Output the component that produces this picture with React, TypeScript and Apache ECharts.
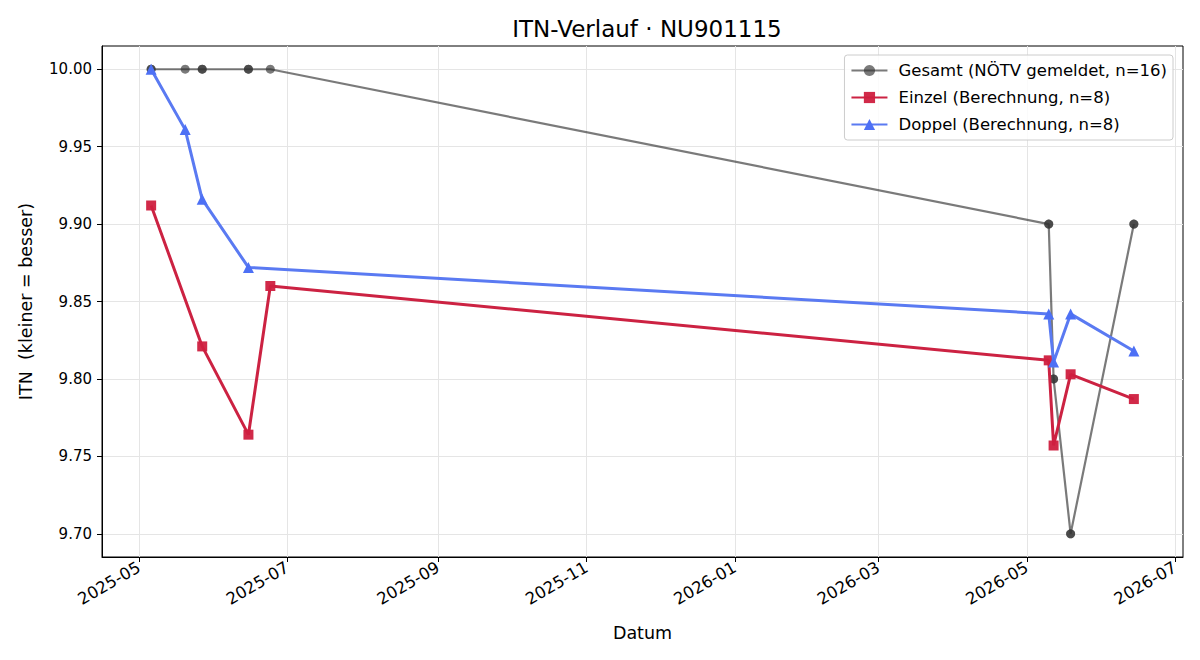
import React, { useEffect, useRef } from "react";
import * as echarts from "echarts";

const TITLE = "ITN-Verlauf · NU901115";
const X_NAME = "Datum";
const Y_NAME = "ITN  (kleiner = besser)";

const SERIES_NAMES = [
  "Gesamt (NÖTV gemeldet, n=16)",
  "Einzel (Berechnung, n=8)",
  "Doppel (Berechnung, n=8)",
];

const GESAMT_DATES = [
  "2025-05-06", "2025-05-06", "2025-05-20", "2025-05-27", "2025-05-27",
  "2025-06-15", "2025-06-15", "2025-06-24", "2026-05-10", "2026-05-10",
  "2026-05-12", "2026-05-12", "2026-05-19", "2026-05-19", "2026-06-14", "2026-06-14",
];
const GESAMT_VALUES = [
  10.0, 10.0, 10.0, 10.0, 10.0, 10.0, 10.0, 10.0,
  9.9, 9.9, 9.8, 9.8, 9.7, 9.7, 9.9, 9.9,
];

const EINZEL_DATES = [
  "2025-05-06", "2025-05-27", "2025-06-15", "2025-06-24",
  "2026-05-10", "2026-05-12", "2026-05-19", "2026-06-14",
];
const EINZEL_VALUES = [9.912, 9.821, 9.764, 9.86, 9.812, 9.757, 9.803, 9.787];

const DOPPEL_DATES = [
  "2025-05-06", "2025-05-20", "2025-05-27", "2025-06-15",
  "2026-05-10", "2026-05-12", "2026-05-19", "2026-06-14",
];
const DOPPEL_VALUES = [10.0, 9.961, 9.916, 9.872, 9.842, 9.811, 9.842, 9.818];

const X_TICKS = [
  "2025-05", "2025-07", "2025-09", "2025-11",
  "2026-01", "2026-03", "2026-05", "2026-07",
];
const Y_TICKS = [9.7, 9.75, 9.8, 9.85, 9.9, 9.95, 10.0];
const Y_MIN = 9.685;
const Y_MAX = 10.015;

const FONT = "DejaVu Sans";

function ts(s: string): number {
  const p = s.split("-").map(Number);
  return Date.UTC(p[0], p[1] - 1, p[2] || 1);
}

function pairs(dates: string[], vals: number[]) {
  return dates.map((d, i) => [ts(d), vals[i]]);
}

export default function App() {
  const ref = useRef<HTMLDivElement>(null);

  useEffect(() => {
    document.body.style.margin = "0";
    if (!ref.current) return;
    const chart = echarts.init(ref.current, null, { renderer: "svg" });

    const allT = [...GESAMT_DATES, ...EINZEL_DATES, ...DOPPEL_DATES].map(ts);
    const tMin = Math.min(...allT);
    const tMax = Math.max(...allT);
    const pad = (tMax - tMin) * 0.05;

    const fmtX = (v: number) => {
      const d = new Date(v);
      const m = d.getUTCMonth() + 1;
      return `${d.getUTCFullYear()}-${m < 10 ? "0" + m : m}`;
    };

    chart.setOption({
      animation: false,
      backgroundColor: "#ffffff",
      textStyle: { fontFamily: FONT },
      title: {
        text: TITLE,
        left: 642,
        textAlign: "center",
        top: 12,
        textStyle: { fontFamily: FONT, fontSize: 23, fontWeight: "normal", color: "#000" },
      },
      grid: {
        left: 102,
        right: 17,
        top: 46,
        bottom: 103,
        show: true,
        borderColor: "#000",
        borderWidth: 1,
        backgroundColor: "transparent",
      },
      legend: {
        orient: "vertical",
        right: 27,
        top: 55,
        backgroundColor: "rgba(255,255,255,0.85)",
        borderColor: "#cccccc",
        borderWidth: 1,
        borderRadius: 3,
        padding: [6, 6, 6, 6],
        itemGap: 8,
        itemWidth: 36,
        itemHeight: 14,
        data: SERIES_NAMES,
        textStyle: {
          fontFamily: FONT,
          fontSize: 16.5,
          lineHeight: 19,
          color: "#000",
          padding: [0, 0, 0, 6],
        },
      },
      xAxis: {
        type: "value",
        min: tMin - pad,
        max: tMax + pad,
        name: X_NAME,
        nameLocation: "middle",
        nameGap: 67,
        nameTextStyle: { fontFamily: FONT, fontSize: 17.5, color: "#000" },
        axisLine: { show: true, lineStyle: { color: "#000", width: 1 } },
        axisTick: {
          show: true,
          length: 5,
          inside: false,
          lineStyle: { color: "#000" },
          customValues: X_TICKS.map(ts),
        },
        axisLabel: {
          rotate: 30,
          margin: 9,
          fontFamily: FONT,
          fontSize: 16.5,
          color: "#000",
          customValues: X_TICKS.map(ts),
          formatter: (v: number) => fmtX(v),
        },
        splitLine: { show: true, lineStyle: { color: "#e5e5e5", width: 1 } },
      },
      yAxis: {
        type: "value",
        min: Y_MIN,
        max: Y_MAX,
        name: Y_NAME,
        nameLocation: "middle",
        nameGap: 67,
        nameTextStyle: { fontFamily: FONT, fontSize: 17.5, color: "#000" },
        axisLine: { show: true, lineStyle: { color: "#000", width: 1 } },
        axisTick: {
          show: true,
          length: 5,
          lineStyle: { color: "#000" },
          customValues: Y_TICKS,
        },
        axisLabel: {
          margin: 10,
          fontFamily: FONT,
          fontSize: 15,
          color: "#000",
          customValues: Y_TICKS,
          formatter: (v: number) => v.toFixed(2),
        },
        splitLine: { show: true, lineStyle: { color: "#e5e5e5", width: 1 } },
      },
      series: [
        {
          name: SERIES_NAMES[0],
          type: "line",
          data: pairs(GESAMT_DATES, GESAMT_VALUES),
          symbol: "circle",
          symbolSize: 9,
          lineStyle: { color: "#333333", width: 2.2, opacity: 0.65 },
          itemStyle: { color: "#333333", opacity: 0.65 },
          z: 2,
        },
        {
          name: SERIES_NAMES[1],
          type: "line",
          data: pairs(EINZEL_DATES, EINZEL_VALUES),
          symbol: "rect",
          symbolSize: 10,
          lineStyle: { color: "#cc2242", width: 3 },
          itemStyle: { color: "#cf1f3f", opacity: 0.95 },
          z: 3,
        },
        {
          name: SERIES_NAMES[2],
          type: "line",
          data: pairs(DOPPEL_DATES, DOPPEL_VALUES),
          symbol: "triangle",
          symbolSize: 11,
          lineStyle: { color: "#5a7af2", width: 3 },
          itemStyle: { color: "#4d70f5" },
          z: 4,
        },
      ],
    });

    return () => chart.dispose();
  }, []);

  return <div ref={ref} style={{ width: 1200, height: 660 }} />;
}
